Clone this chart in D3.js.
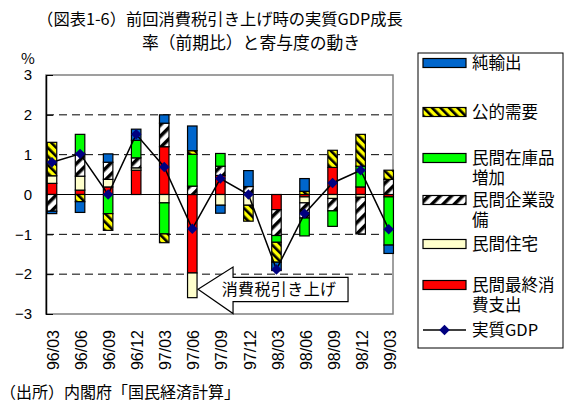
<!DOCTYPE html>
<html>
<head>
<meta charset="utf-8">
<script src="https://cdn.jsdelivr.net/npm/d3@7"></script>
<style>
  body { margin: 0; background: #fff; }
  svg { display: block; font-family: "Noto Sans CJK JP", sans-serif; }
</style>
</head>
<body>
<div id="chart"></div>
<script>
// quarters
const categories = ["96/03", "96/06", "96/09", "96/12", "97/03", "97/06", "97/09", "97/12", "98/03", "98/06", "98/09", "98/12", "99/03"];
// contributions (% pt)
const consumption = [0.28, 0.11, 0.19, 0.61, 1.20, -1.97, 0.48, 0.00, -0.38, -0.06, 0.68, 0.19, -0.06];
const housing     = [0.19, 0.35, 0.19, 0.06, -0.21, -0.62, -0.27, -0.27, 0.00, -0.15, -0.10, -0.07, 0.00];
const investment  = [-0.42, 0.57, 0.43, 0.25, 0.59, 0.21, 0.23, 0.20, -0.65, -0.38, -0.31, -0.92, 0.38];
const inventory   = [0.00, 0.48, -0.48, 0.44, -0.78, 0.80, 0.32, 0.00, -0.17, -0.45, -0.39, 0.52, -1.21];
const publicDemand = [0.84, -0.18, -0.42, 0.00, -0.22, 0.09, 0.00, -0.40, -0.50, 0.08, 0.43, 0.80, 0.23];
const netExports  = [-0.06, -0.27, 0.21, 0.28, 0.21, 0.62, -0.20, 0.40, -0.21, 0.32, 0.00, 0.00, -0.21];
const gdp         = [0.81, 1.02, 0.00, 1.51, 0.69, -0.86, 0.40, 0.00, -1.88, -0.48, 0.29, 0.61, -0.87];

const yTicks = [3, 2, 1, 0, -1, -2, -3];
const titleLines = ["（図表1-6）前回消費税引き上げ時の実質GDP成長", "率（前期比）と寄与度の動き"];

// stacking order (bottom first), legend lists them reversed
const series = [
  { key: "cons", values: consumption, fill: "#ff0000", label: ["民間最終消", "費支出"] },
  { key: "house", values: housing, fill: "#ffffcc", label: ["民間住宅"] },
  { key: "inv", values: investment, fill: "url(#hatchBW)", label: ["民間企業設", "備"] },
  { key: "stock", values: inventory, fill: "#00ff00", label: ["民間在庫品", "増加"] },
  { key: "pub", values: publicDemand, fill: "url(#hatchY)", label: ["公的需要"] },
  { key: "nx", values: netExports, fill: "#0066cc", label: ["純輸出"] }
];

const W = 571, H = 412;
const plot = { left: 46, right: 393, top: 75, bottom: 314 };

const svg = d3.select("#chart").append("svg")
  .attr("width", W).attr("height", H);

// patterns
const defs = svg.append("defs");
const pY = defs.append("pattern").attr("id", "hatchY")
  .attr("patternUnits", "userSpaceOnUse").attr("width", 6).attr("height", 6)
  .attr("patternTransform", "rotate(-45)");
pY.append("rect").attr("width", 6).attr("height", 6).attr("fill", "#ffff00");
pY.append("rect").attr("width", 2.6).attr("height", 6).attr("fill", "#000");

const pB = defs.append("pattern").attr("id", "hatchBW")
  .attr("patternUnits", "userSpaceOnUse").attr("width", 8).attr("height", 8)
  .attr("patternTransform", "rotate(45)");
pB.append("rect").attr("width", 8).attr("height", 8).attr("fill", "#fff");
pB.append("rect").attr("width", 3.5).attr("height", 8).attr("fill", "#000");

const x = d3.scalePoint().domain(categories).range([52, 388.7]);
const y = d3.scaleLinear().domain([-3, 3]).range([plot.bottom, plot.top]);
const barW = 9.5;

// title
svg.append("text").attr("x", 220).attr("y", 25).attr("text-anchor", "middle")
  .attr("font-size", 16.3).text(titleLines[0]);
svg.append("text").attr("x", 251).attr("y", 49).attr("text-anchor", "middle")
  .attr("font-size", 16.8).text(titleLines[1]);

svg.append("text").attr("x", 21).attr("y", 64).attr("font-size", 15).text("%");

// plot frame
svg.append("rect")
  .attr("x", plot.left).attr("y", plot.top)
  .attr("width", plot.right - plot.left).attr("height", plot.bottom - plot.top)
  .attr("fill", "#fff").attr("stroke", "#808080").attr("stroke-width", 1.5);

// grid
svg.append("g").selectAll("line")
  .data(yTicks.filter(d => d !== 3 && d !== -3))
  .join("line")
  .attr("x1", plot.left).attr("x2", plot.right)
  .attr("y1", d => y(d)).attr("y2", d => y(d))
  .attr("stroke", "#000").attr("stroke-width", 1)
  .attr("stroke-dasharray", d => d === 0 ? null : "8,5");

// y axis
svg.append("g")
  .attr("transform", `translate(${plot.left},0)`)
  .call(d3.axisLeft(y).tickValues(yTicks).tickSizeInner(-7).tickSizeOuter(0).tickPadding(14)
    .tickFormat(d => d < 0 ? "−" + Math.abs(d) : d))
  .call(g => g.select(".domain").attr("stroke", "#000").attr("stroke-width", 1.5))
  .call(g => g.selectAll(".tick line").attr("stroke", "#000"))
  .call(g => g.selectAll("text").attr("font-size", 15).attr("fill", "#000")
    .attr("font-family", "Liberation Sans, Arial, sans-serif"));

// x axis labels
svg.append("g")
  .attr("transform", `translate(0,${plot.bottom})`)
  .call(d3.axisBottom(x).tickSize(0))
  .call(g => g.select(".domain").remove())
  .call(g => g.selectAll("text")
    .attr("font-size", 16).attr("fill", "#000")
    .attr("text-anchor", "end")
    .attr("transform", "rotate(-90)")
    .attr("x", -16).attr("y", 1).attr("dy", "0.35em"));

// stacked bars
const rows = categories.map((c, i) => {
  const r = { cat: c };
  series.forEach(s => r[s.key] = s.values[i]);
  return r;
});
const stacked = d3.stack().keys(series.map(s => s.key)).offset(d3.stackOffsetDiverging)(rows);

svg.append("g").selectAll("g")
  .data(stacked)
  .join("g")
  .attr("fill", (d, i) => series[i].fill)
  .selectAll("rect")
  .data(d => d.filter(v => Math.abs(v[1] - v[0]) > 1e-9))
  .join("rect")
  .attr("x", d => x(d.data.cat) - barW / 2)
  .attr("width", barW)
  .attr("y", d => y(Math.max(d[0], d[1])))
  .attr("height", d => Math.abs(y(d[0]) - y(d[1])))
  .attr("stroke", "#000").attr("stroke-width", 1.2);

// GDP line
const line = d3.line().x((d, i) => x(categories[i])).y(d => y(d));
svg.append("path").datum(gdp)
  .attr("d", line).attr("fill", "none").attr("stroke", "#000").attr("stroke-width", 1.5);

const diamond = d3.symbol().type(d3.symbolDiamond2).size(70);
svg.append("g").selectAll("path")
  .data(gdp)
  .join("path")
  .attr("transform", (d, i) => `translate(${x(categories[i])},${y(d)})`)
  .attr("d", diamond)
  .attr("fill", "#000080");

// callout arrow (anchored to 97/06 bar)
const ax = x("97/06") + barW / 2 + 1;
const headX = ax + 35, bodyR = ax + 150;
const arrowPts = [
  [ax, y(-2.38)], [headX, y(-1.82)], [headX, y(-2.08)], [bodyR, y(-2.08)],
  [bodyR, y(-2.69)], [headX, y(-2.69)], [headX, y(-2.99)]
];
svg.append("path")
  .attr("d", d3.line()(arrowPts) + "Z")
  .attr("fill", "#fff").attr("stroke", "#000").attr("stroke-width", 1.2);
svg.append("text")
  .attr("x", ax + 81).attr("y", y(-2.38) + 6).attr("text-anchor", "middle")
  .attr("font-size", 16).attr("letter-spacing", 0.4).text("消費税引き上げ");

// legend
const legend = svg.append("g");
legend.append("rect").attr("x", 418).attr("y", 53).attr("width", 145).attr("height", 295)
  .attr("fill", "#fff").attr("stroke", "#000").attr("stroke-width", 1);

const legendItems = series.slice().reverse();
const legendY = [63, 112, 158, 200, 244, 285];
legendItems.forEach((s, i) => {
  const cy = legendY[i];
  legend.append("rect").attr("x", 423).attr("y", cy - 4.5).attr("width", 43).attr("height", 9)
    .attr("fill", s.fill).attr("stroke", "#000").attr("stroke-width", 1.2);
  const t = legend.append("text").attr("x", 472).attr("y", cy + 6).attr("font-size", 16.5);
  s.label.forEach((part, j) => {
    t.append("tspan").attr("x", 472).attr("dy", j === 0 ? 0 : 20).text(part);
  });
});
const gy = 330;
legend.append("line").attr("x1", 423).attr("x2", 466).attr("y1", gy).attr("y2", gy)
  .attr("stroke", "#000").attr("stroke-width", 1.5);
legend.append("path").attr("transform", `translate(444.5,${gy})`).attr("d", diamond).attr("fill", "#000080");
legend.append("text").attr("x", 472).attr("y", gy + 6).attr("font-size", 16.5).text("実質GDP");

// source
svg.append("text").attr("x", 0).attr("y", 398).attr("font-size", 16)
  .text("（出所）内閣府「国民経済計算」");
</script>
</body>
</html>
